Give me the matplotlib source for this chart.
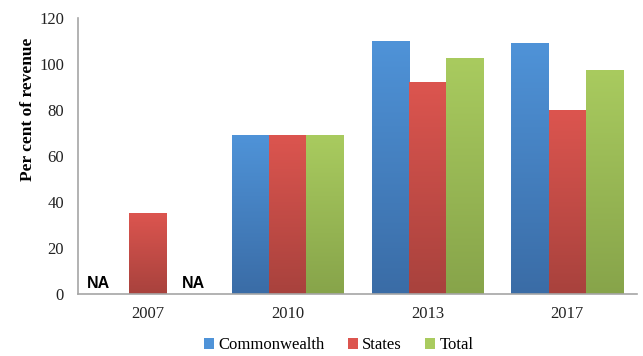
import numpy as np
import matplotlib.pyplot as plt
from matplotlib.patches import Patch
from matplotlib.colors import LinearSegmentedColormap

years = ['2007', '2010', '2013', '2017']
commonwealth = [np.nan, 69, 110, 109]
states = [35, 69, 92, 80]
total = [np.nan, 69, 102.5, 97.5]

series = [('Commonwealth', commonwealth, '#4f93d8', '#3a6ca6'),
          ('States', states, '#dc554f', '#a8423d'),
          ('Total', total, '#a9cb5f', '#87a44a')]
# horizontal nudge of the NA markers for each series
na_shift = [-0.09, 0, 0.06]

plt.rcParams['font.family'] = ['Liberation Serif', 'DejaVu Serif']

fig = plt.figure(figsize=(6.43, 3.56), dpi=100)
ax = fig.add_axes([0.1213, 0.1742, 0.8694, 0.7752])

x = np.arange(len(years))
w = 0.266
handles = []
for i, (name, vals, top, bottom) in enumerate(series):
    pos = x + (i - 1) * w
    v = np.nan_to_num(np.array(vals, dtype=float))
    bars = ax.bar(pos, v, width=w, color=top, linewidth=0)
    cmap = LinearSegmentedColormap.from_list(name, [bottom, top])
    grad = np.linspace(0, 1, 256).reshape(-1, 1)
    for b in bars:
        if b.get_height() <= 0:
            continue
        bx, by = b.get_x(), b.get_y()
        im = ax.imshow(grad, cmap=cmap, origin='lower', aspect='auto',
                       extent=[bx, bx + b.get_width(), by, by + b.get_height()],
                       zorder=2)
        im.set_clip_path(b)
    for p, val in zip(pos, vals):
        if np.isnan(val):
            ax.text(p + na_shift[i], 1.5, 'NA', ha='center', va='bottom',
                    fontsize=11.5, fontweight='bold', family='Liberation Sans')
    handles.append(Patch(facecolor=top, label=name))

ax.set_xlim(-0.5, 3.5)
ax.set_ylim(0, 120)
ax.set_yticks(range(0, 121, 20))
ax.set_xticks(x)
ax.set_xticklabels(years)
ax.tick_params(length=0, labelsize=12, colors='#222222')
ax.tick_params(axis='x', pad=9)
ax.tick_params(axis='y', pad=10)
ax.set_ylabel('Per cent of revenue', fontsize=12.5, fontweight='bold')
ax.yaxis.set_label_coords(-0.075, 0.67)
for s in ['top', 'right']:
    ax.spines[s].set_visible(False)
for s in ['left', 'bottom']:
    ax.spines[s].set_color('#a6a6a6')
    ax.spines[s].set_linewidth(1.2)

fig.legend(handles=handles, loc='lower center', bbox_to_anchor=(0.527, -0.035),
           ncol=3, frameon=False, fontsize=12, handlelength=0.6,
           handleheight=0.6, handletextpad=0.25, columnspacing=1.4)

fig.savefig('out.png', dpi=100)
